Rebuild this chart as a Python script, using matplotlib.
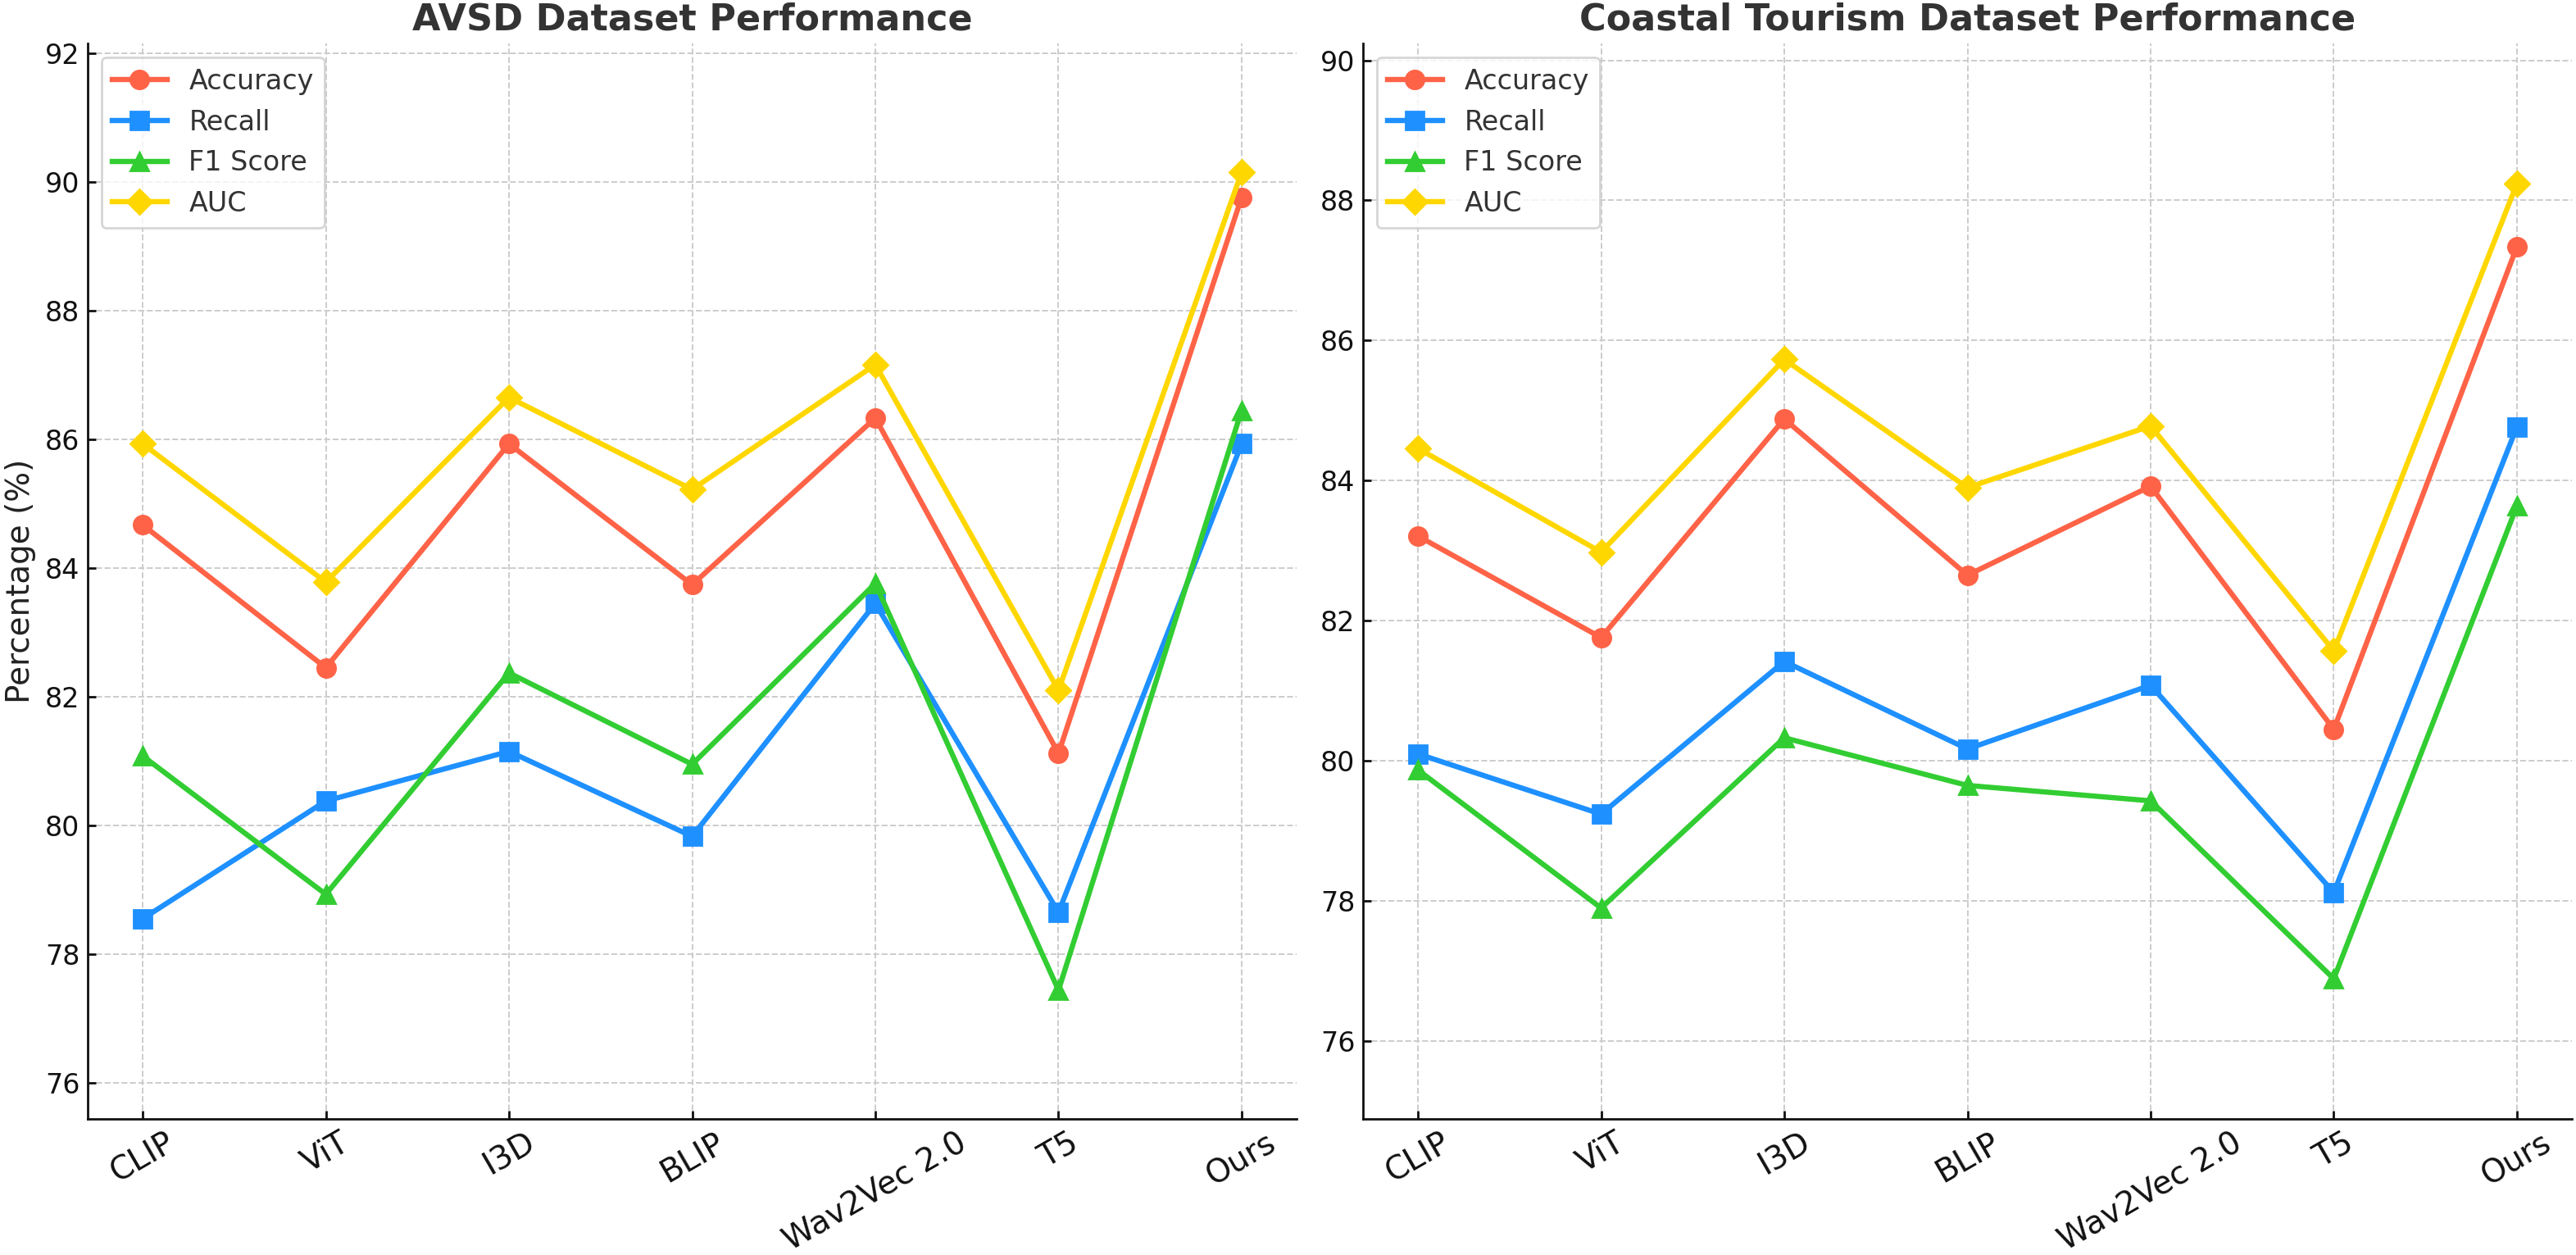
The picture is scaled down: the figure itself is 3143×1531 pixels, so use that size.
import matplotlib
matplotlib.use("Agg")
import matplotlib.pyplot as plt
import numpy as np

models = ["CLIP", "ViT", "I3D", "BLIP", "Wav2Vec 2.0", "T5", "Ours"]

avsd_accuracy = [84.67, 82.45, 85.93, 83.74, 86.33, 81.12, 89.76]
avsd_recall   = [78.55, 80.38, 81.15, 79.83, 83.45, 78.65, 85.93]
avsd_f1       = [81.08, 78.93, 82.37, 80.95, 83.76, 77.44, 86.45]
avsd_auc      = [85.93, 83.78, 86.65, 85.22, 87.16, 82.10, 90.15]

coastal_accuracy = [83.21, 81.76, 84.88, 82.65, 83.92, 80.45, 87.34]
coastal_recall   = [80.10, 79.24, 81.42, 80.17, 81.08, 78.12, 84.77]
coastal_f1       = [79.87, 77.90, 80.33, 79.65, 79.43, 76.89, 83.64]
coastal_auc      = [84.46, 82.98, 85.73, 83.90, 84.78, 81.57, 88.24]

metric_names = ["Accuracy", "Recall", "F1 Score", "AUC"]
colors = ["#FF6347", "#1E90FF", "#32CD32", "#FFD700"]
markers = ["o", "s", "^", "D"]

W, H = 3143, 1531
dpi = 200
fig = plt.figure(figsize=(W / dpi, H / dpi), dpi=dpi)

ax1 = fig.add_axes([107 / W, 1 - 1365 / H, 1475 / W, 1312 / H])
ax2 = fig.add_axes([1663 / W, 1 - 1365 / H, 1475 / W, 1312 / H])

panels = [
    (ax1, "AVSD Dataset Performance", [avsd_accuracy, avsd_recall, avsd_f1, avsd_auc]),
    (ax2, "Coastal Tourism Dataset Performance",
     [coastal_accuracy, coastal_recall, coastal_f1, coastal_auc]),
]

x = np.arange(len(models))
for i, (ax, title, series) in enumerate(panels):
    for name, vals, c, m in zip(metric_names, series, colors, markers):
        ms = 7.5 if m == "D" else 8
        ax.plot(x, vals, marker=m, color=c, label=name, linewidth=2.3, markersize=ms)
    allv = np.concatenate([np.array(s) for s in series])
    ax.set_ylim(allv.min() - 2, allv.max() + 2)
    ax.set_xticks(x)
    ax.set_xticklabels(models, rotation=30, fontsize=14)
    ax.tick_params(axis="y", labelsize=12)
    ax.tick_params(direction="in", length=3.6, width=1, colors="#111111")
    ax.set_title(title, fontsize=16, fontweight="bold", color="#333333")
    ax.grid(True, linestyle="--", color="#cccccc", linewidth=0.7)
    ax.set_axisbelow(True)
    for s in ["top", "right"]:
        ax.spines[s].set_visible(False)
    for s in ["left", "bottom"]:
        ax.spines[s].set_linewidth(1.0)
        ax.spines[s].set_color("#111111")
    leg = ax.legend(loc="upper left", fontsize=12, frameon=True)
    leg.get_frame().set_edgecolor("#cccccc")
    for t in leg.get_texts():
        t.set_color("#333333")
    if i == 0:
        ax.set_ylabel("Percentage (%)", fontsize=14, color="#222222")

fig.savefig("out.png", dpi=dpi)
